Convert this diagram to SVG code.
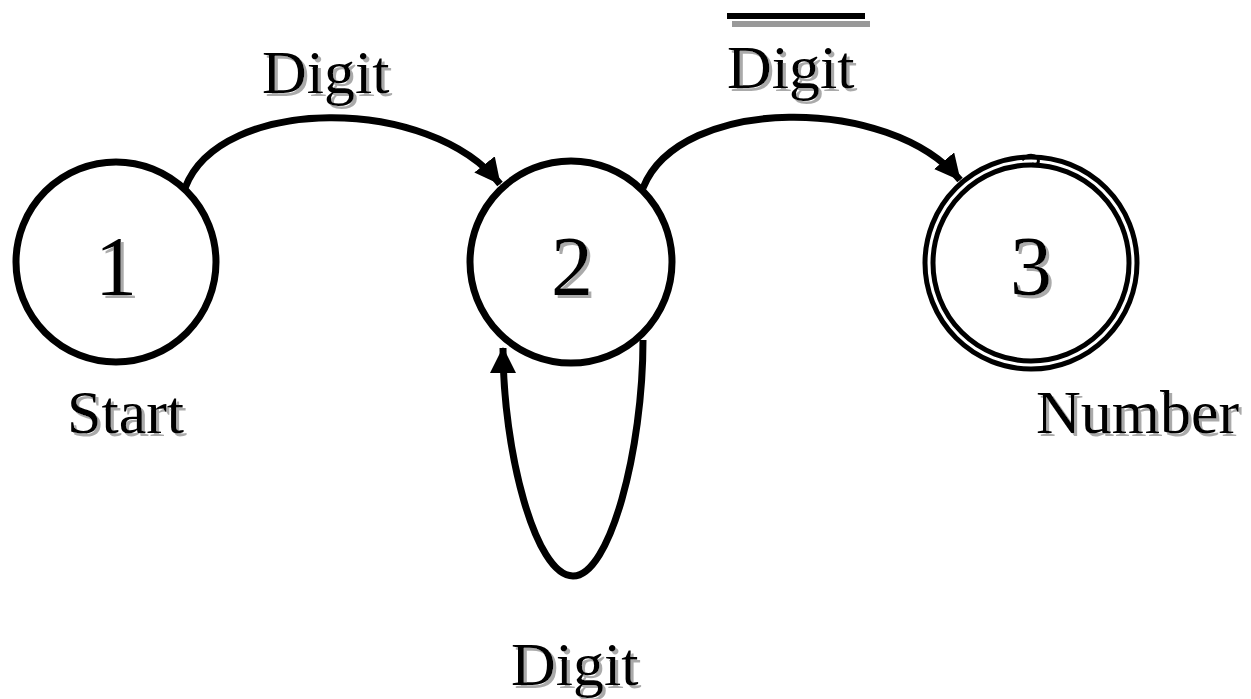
<svg xmlns="http://www.w3.org/2000/svg" width="1251" height="699" viewBox="0 0 1251 699">
<style>
.st{fill:none;stroke:#000;stroke-width:7}
.ring{fill:none;stroke:#000;stroke-width:5}
.edge{fill:none;stroke:#000;stroke-width:7}
.t{font-family:"Liberation Serif","Times New Roman",serif;font-size:62px;fill:#000;filter:url(#shadow)}
.num{font-size:84px;text-anchor:middle}
</style>
<defs>
<filter id="shadow" x="-10%" y="-10%" width="130%" height="130%">
<feOffset in="SourceAlpha" dx="3" dy="3" result="off"/>
<feFlood flood-color="#aaaaaa"/>
<feComposite in2="off" operator="in" result="sh"/>
<feMerge><feMergeNode in="sh"/><feMergeNode in="SourceGraphic"/></feMerge>
</filter>
<marker id="arr" markerUnits="userSpaceOnUse" markerWidth="30" markerHeight="30" refX="25" refY="13" orient="auto">
<path d="M0,0 L26,13 L0,26 Z" fill="#000"/>
</marker>
</defs>
<rect width="1251" height="699" fill="#fff"/>
<g id="connectors">
<path class="edge" d="M185 188 C220 95, 430 95, 500 184" marker-end="url(#arr)"/>
<path class="edge" d="M643 188 C680 95, 890 95, 960 180" marker-end="url(#arr)"/>
<path class="edge" d="M643 340 C643 450, 610 576, 573 576 C535 576, 503 450, 503 348" marker-end="url(#arr)"/>
</g>
<g id="node1">
<circle class="st" cx="116" cy="262" r="100"/>
<text class="t num" x="116" y="295">1</text>
</g>
<g id="node2">
<circle class="st" cx="571" cy="262" r="101"/>
<text class="t num" x="572" y="295">2</text>
</g>
<g id="node3">
<circle class="ring" cx="1031" cy="263" r="106"/>
<circle class="ring" cx="1031" cy="263" r="98"/>
<path d="M1022 160 Q1030 152 1038 158 Q1040 166 1032 164" fill="none" stroke="#000" stroke-width="3"/>
<text class="t num" x="1031" y="295">3</text>
</g>
<g id="label-start">
<text class="t" x="67" y="433">Start</text>
</g>
<g id="label-number">
<text class="t" x="1036" y="433">Number</text>
</g>
<g id="label-digit-12">
<text class="t" x="262" y="93">Digit</text>
</g>
<g id="label-notdigit-23">
<rect x="732" y="21" width="138" height="6" fill="#999"/>
<rect x="727" y="13" width="138" height="6" fill="#000"/>
<text class="t" x="727" y="88">Digit</text>
</g>
<g id="label-digit-loop">
<text class="t" x="511" y="685">Digit</text>
</g>
</svg>
